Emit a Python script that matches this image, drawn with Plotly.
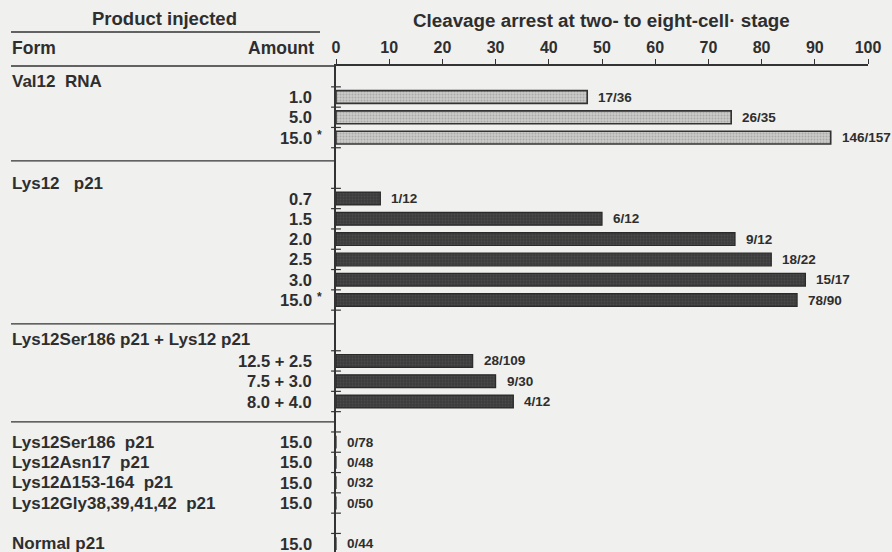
import plotly.graph_objects as go

# ---------------- data ----------------
GROUP_HEADERS = ["Val12\u00a0\u00a0RNA", "Lys12\u00a0\u00a0\u00a0p21", "Lys12Ser186 p21 + Lys12 p21", None, None]
ROW_GROUP = [0, 0, 0, 1, 1, 1, 1, 1, 1, 2, 2, 2, 3, 3, 3, 3, 4]
ROW_FORM = ["", "", "", "", "", "", "", "", "", "", "", "",
            "Lys12Ser186\u00a0\u00a0p21", "Lys12Asn17\u00a0\u00a0p21", "Lys12\u0394153-164\u00a0\u00a0p21",
            "Lys12Gly38,39,41,42\u00a0\u00a0p21", "Normal p21"]
AMOUNTS = ["1.0", "5.0", "15.0", "0.7", "1.5", "2.0", "2.5", "3.0", "15.0",
           "12.5 + 2.5", "7.5 + 3.0", "8.0 + 4.0", "15.0", "15.0", "15.0", "15.0", "15.0"]
STARRED = [False, False, True, False, False, False, False, False, True,
           False, False, False, False, False, False, False, False]
ARRESTED = [17, 26, 146, 1, 6, 9, 18, 15, 78, 28, 9, 4, 0, 0, 0, 0, 0]
INJECTED = [36, 35, 157, 12, 12, 12, 22, 17, 90, 109, 30, 12, 78, 48, 32, 50, 44]
X_TICKS = [0, 10, 20, 30, 40, 50, 60, 70, 80, 90, 100]

TITLE_LEFT = "Product injected"
TITLE_RIGHT = "Cleavage arrest at two- to eight-cell\u00b7 stage"
COL_FORM = "Form"
COL_AMOUNT = "Amount"

# ---------------- layout helpers ----------------
W, H = 892, 552
PL, PR, PT, PB = 336, 868, 66, 552
ROW_PX = 20.3
ROW0_PX = 97
HEADER_LIFT = [0.74, 0.76, 1.03, None, None]
SEP_AFTER = [1.15, 1.18, 1.0, None, None]

INK = "#2e2e2e"
BG = "#f0f0ee"
FONT = "Liberation Sans, Arial, Helvetica, sans-serif"


def xp(px):
    return (px - PL) / (PR - PL)


def yp(py):
    return (PB - py) / (PB - PT)


# row positions (row units), groups separated by blank rows
n_groups = len(GROUP_HEADERS)
row_k = []
k = 0
prev_group = None
for g in ROW_GROUP:
    if prev_group is not None:
        if g != prev_group:
            k += 3 if GROUP_HEADERS[g] else 2
        else:
            k += 1
    row_k.append(k)
    prev_group = g

pct = [a / n * 100 for a, n in zip(ARRESTED, INJECTED)]

k_top = (PT - ROW0_PX) / ROW_PX
k_bot = (PB - ROW0_PX) / ROW_PX

fig = go.Figure()

light_idx = [i for i, g in enumerate(ROW_GROUP) if g == 0]
dark_idx = [i for i, g in enumerate(ROW_GROUP) if g != 0]

fig.add_trace(go.Bar(
    orientation="h",
    y=[row_k[i] for i in light_idx],
    x=[pct[i] for i in light_idx],
    width=0.63,
    marker=dict(color="#cacac8", line=dict(color="#333333", width=1.6),
                pattern=dict(shape=".", fgcolor="#888888", size=3, solidity=0.35)),
    hoverinfo="skip",
))
fig.add_trace(go.Bar(
    orientation="h",
    y=[row_k[i] for i in dark_idx],
    x=[pct[i] for i in dark_idx],
    width=0.63,
    marker=dict(color="#3c3c3c", line=dict(color="#2a2a2a", width=1.2),
                pattern=dict(shape=".", fgcolor="#585858", size=3, solidity=0.3)),
    hoverinfo="skip",
))

# crossing tick marks on the vertical axis at row boundaries
tick_k = sorted(set([r - 0.5 for r in row_k] + [r + 0.5 for r in row_k]))
fig.add_trace(go.Scatter(
    x=[0] * len(tick_k), y=tick_k, mode="markers",
    marker=dict(symbol="line-ew-open", size=7, color="#333333",
                line=dict(color="#333333", width=1.2)),
    cliponaxis=False, hoverinfo="skip",
))

ann = []
shapes = []


def tfont(size, color=INK):
    return dict(family=FONT, size=size, color=color, weight="bold")


# headings
ann.append(dict(xref="paper", yref="paper", x=xp(164), y=yp(19), text=TITLE_LEFT,
                showarrow=False, xanchor="center", yanchor="middle", font=tfont(18.5)))
ann.append(dict(xref="paper", yref="paper", x=xp(601), y=yp(20), text=TITLE_RIGHT,
                showarrow=False, xanchor="center", yanchor="middle", font=tfont(18.8)))
ann.append(dict(xref="paper", yref="paper", x=xp(10), y=yp(48), text=COL_FORM,
                showarrow=False, xanchor="left", yanchor="middle", font=tfont(17.5)))
ann.append(dict(xref="paper", yref="paper", x=xp(316), y=yp(48), text=COL_AMOUNT,
                showarrow=False, xanchor="right", yanchor="middle", font=tfont(17.5)))

shapes.append(dict(type="line", xref="paper", yref="paper", x0=xp(11), x1=xp(320),
                   y0=yp(32), y1=yp(32), line=dict(color="#333333", width=1.4)))
shapes.append(dict(type="line", xref="paper", yref="paper", x0=xp(11), x1=0,
                   y0=1, y1=1, line=dict(color="#333333", width=1.5)))

# group headers and separators
for g in range(n_groups):
    ks = [row_k[i] for i, gg in enumerate(ROW_GROUP) if gg == g]
    if GROUP_HEADERS[g]:
        ann.append(dict(xref="paper", yref="y", x=xp(10), y=ks[0] - HEADER_LIFT[g],
                        text=GROUP_HEADERS[g], showarrow=False, xanchor="left",
                        yanchor="middle", font=tfont(17)))
    if SEP_AFTER[g] is not None:
        ys = ks[-1] + SEP_AFTER[g]
        shapes.append(dict(type="line", xref="paper", yref="y", x0=xp(11), x1=0,
                           y0=ys, y1=ys, line=dict(color="#333333", width=1.3)))

# row labels
for i in range(len(ROW_GROUP)):
    if ROW_FORM[i]:
        ann.append(dict(xref="paper", yref="y", x=xp(10), y=row_k[i], text=ROW_FORM[i],
                        showarrow=False, xanchor="left", yanchor="middle", font=tfont(17)))
    ann.append(dict(xref="paper", yref="y", x=xp(314), y=row_k[i], text=AMOUNTS[i],
                    showarrow=False, xanchor="right", yanchor="middle", font=tfont(16.5)))
    if STARRED[i]:
        ann.append(dict(xref="paper", yref="y", x=xp(315), y=row_k[i], text="*",
                        showarrow=False, xanchor="left", yanchor="middle", yshift=3,
                        font=tfont(12)))
    ann.append(dict(xref="x", yref="y", x=pct[i], y=row_k[i],
                    text=f"{ARRESTED[i]}/{INJECTED[i]}", showarrow=False,
                    xanchor="left", yanchor="middle", xshift=9, font=tfont(13.5)))

fig.update_layout(
    width=W, height=H,
    margin=dict(l=PL, r=W - PR, t=PT, b=H - PB, autoexpand=False),
    paper_bgcolor=BG, plot_bgcolor=BG,
    showlegend=False, barmode="overlay",
    annotations=ann, shapes=shapes,
    xaxis=dict(side="top", range=[0, 100], tickvals=X_TICKS, ticks="outside",
               ticklen=5, tickwidth=1.3, tickcolor="#333333", showline=True,
               linecolor="#333333", linewidth=1.5, showgrid=False, zeroline=False,
               tickfont=tfont(16), automargin=False, fixedrange=True),
    yaxis=dict(range=[k_bot, k_top], showline=True, linecolor="#333333", linewidth=1.5,
               showgrid=False, zeroline=False, showticklabels=False, ticks="",
               automargin=False, fixedrange=True),
)

fig.write_html(
    "out.html",
    config={"displayModeBar": False},
    post_script=("document.body.style.margin='0px';"
                 "document.body.style.overflow='hidden';"
                 "document.body.style.background='" + BG + "';"),
)
